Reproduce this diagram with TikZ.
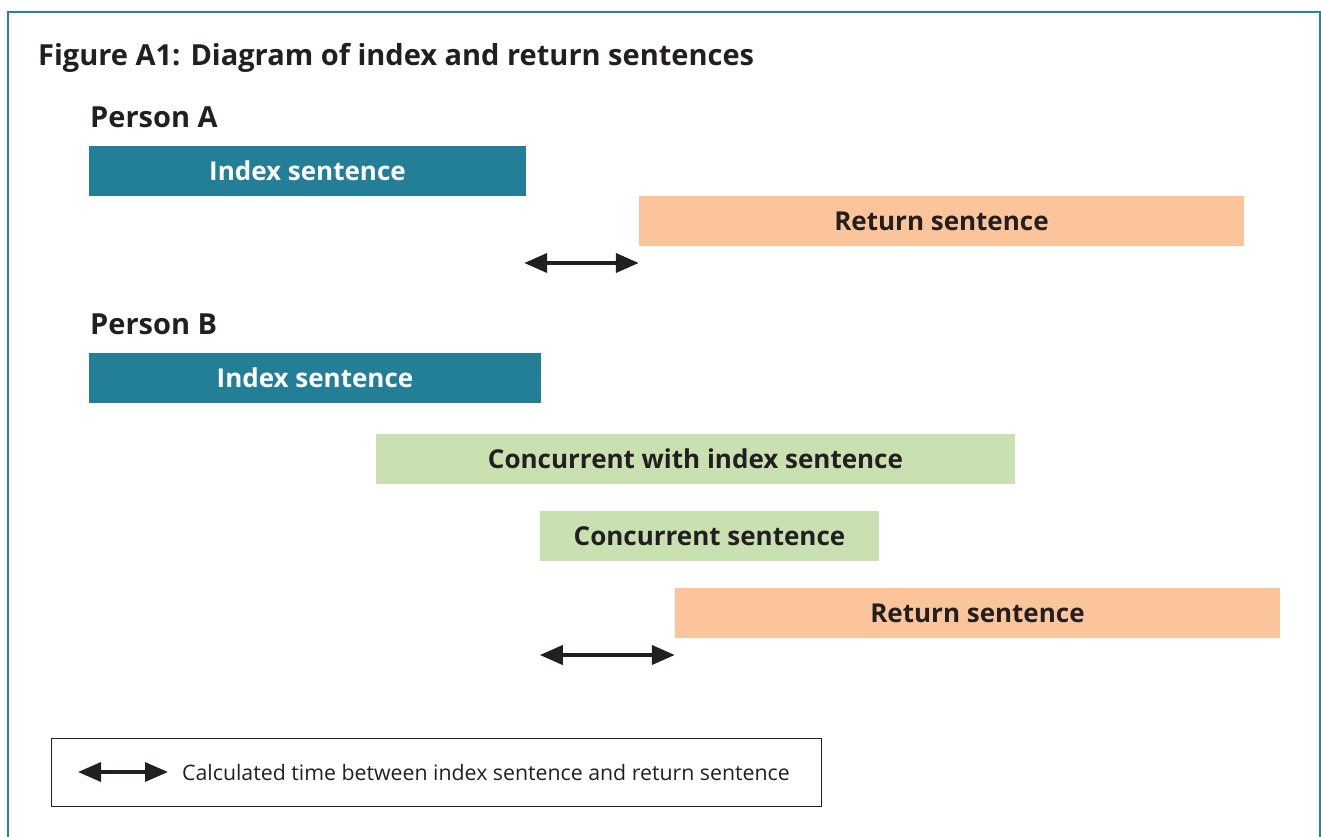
\documentclass[tikz,border=0pt]{standalone}
\usepackage{fontspec}
\setmainfont{Open Sans}
\usetikzlibrary{arrows.meta, positioning}
\usepackage{xcolor}

\definecolor{frameteal}{HTML}{2A819B}
\definecolor{idxteal}{HTML}{237E97}
\definecolor{retorange}{HTML}{FBC49A}
\definecolor{concgreen}{HTML}{C9E0B1}
\definecolor{txtdark}{HTML}{231F20}

\tikzset{
	bar/.style={inner sep=0pt, minimum height=50pt, font=\fontsize{26}{30}\selectfont\bfseries, text=txtdark},
	idxbar/.style={bar, fill=idxteal, text=white},
	retbar/.style={bar, fill=retorange},
	concbar/.style={bar, fill=concgreen},
	gap/.style={{Triangle[length=23pt,width=19pt]}-{Triangle[length=23pt,width=19pt]}, line width=4pt, txtdark},
	person/.style={anchor=base west, inner sep=0pt, font=\fontsize{29}{34}\selectfont\bfseries, text=txtdark}
}

\begin{document}
\begin{tikzpicture}[x=1pt, y=-1pt]
		\useasboundingbox (0,0) rectangle (1321,836);
		\draw[frameteal, line width=2.5pt] (8,840) -- (8,12) -- (1320,12) -- (1320,840);
		
		\node[person] (title) at (38,65) {Figure A1: Diagram of index and return sentences};
		
		% person A
		\node[person] (pA) at (90,127) {Person A};
		\draw (307.5,171) node[idxbar, minimum width=437pt] (idxA) {Index sentence}
		(941.5,221) node[retbar, minimum width=605pt] (retA) {Return sentence};
		\coordinate (gapA) at (0,263);
		\draw[gap] ([xshift=-2pt]idxA.east |- gapA) -- (retA.west |- gapA);
		
		% person B
		\node[person] (pB) at (90,334) {Person B};
		\draw (315,378) node[idxbar, minimum width=452pt] (idxB) {Index sentence}
		(695.5,459) node[concbar, minimum width=639pt] (concI) {Concurrent with index sentence}
		(709.5,536) node[concbar, minimum width=339pt] (conc) {Concurrent sentence}
		(977.5,613) node[retbar, minimum width=605pt] (retB) {Return sentence};
		\coordinate (gapB) at (0,655);
		\draw[gap] (conc.west |- gapB) -- (retB.west |- gapB);
		
		% key
		\node[draw=txtdark, line width=1pt, minimum width=770pt, minimum height=68pt, inner sep=0pt] (key) at (436,772) {};
		\coordinate (k1) at (78,772);
		\coordinate (k2) at (168,772);
		\draw[gap, line width=3.5pt] (k1) -- (k2);
		\node[anchor=west, inner sep=0pt, font=\fontsize{21.3}{25}\selectfont, text=txtdark] (ktext) at (182,772) {Calculated time between index sentence and return sentence};
	\end{tikzpicture}
\end{document}
